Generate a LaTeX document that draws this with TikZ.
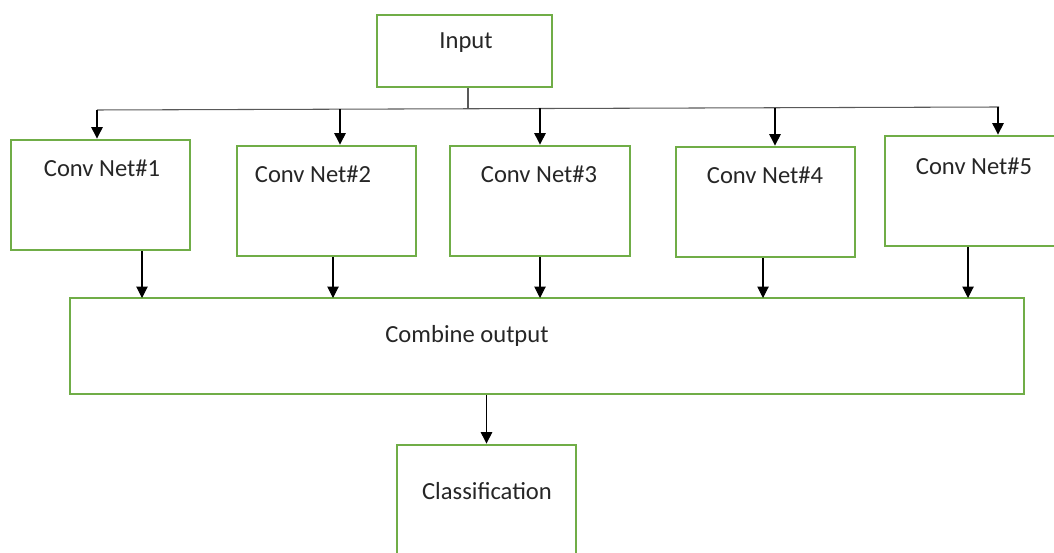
\documentclass[tikz,border=0pt]{standalone}
\usepackage{fontspec}
\setmainfont{Carlito}
\usetikzlibrary{calc,arrows.meta,positioning}
\definecolor{boxgreen}{HTML}{70AD47}

\begin{document}
\begin{tikzpicture}[
  x=0.02cm,y=-0.02cm,>={Triangle[width=6.5pt,length=6.5pt]},
  every node/.style={font=\fontsize{14}{16}\selectfont},
  box/.style={draw=boxgreen,line width=1.6pt,inner sep=0pt,minimum width=179*0.02cm,minimum height=110*0.02cm},
  lbl/.style={inner sep=0pt,text=black!85},
  link/.style={->,line width=0.6pt},
  bus/.style={line width=0.6pt,draw=black!65}
]
  \useasboundingbox (0,0) rectangle (1054,553);
  \clip (0,0) rectangle (1054,553);

  % Boxes
  \node[box,minimum width=175*0.02cm,minimum height=72*0.02cm] (input) at (464.5,51) {};
  \node[box] (c1) at (100.5,195) {};
  \node[box] (c2) at (326.5,201) {};
  \node[box,minimum width=180*0.02cm] (c3) at (540,201) {};
  \node[box] (c4) at (765.5,202) {};
  \node[box] (c5) at (974.5,191) {};
  \node[box,minimum width=954*0.02cm,minimum height=96*0.02cm] (comb) at (547,346) {};
  \node[box] (cls) at (486.5,500) {};

  % Texts
  \node[lbl] (input_t) at (466,43)  {Input};
  \node[lbl] (c1_t)    at (102,168) {Conv Net\#1};
  \node[lbl] (c2_t)    at (313,174) {Conv Net\#2};
  \node[lbl] (c3_t)    at (539,174) {Conv Net\#3};
  \node[lbl] (c4_t)    at (765,175) {Conv Net\#4};
  \node[lbl] (c5_t)    at (974,166) {Conv Net\#5};
  \node[lbl] (comb_t)  at (467,336) {Combine output};
  \node[lbl] (cls_t)   at (487,491) {Classification};

  % Bus under the input
  \coordinate (bL) at (97,110);
  \coordinate (bR) at (999,107);
  \coordinate (j)  at (468,108.5);
  \draw[bus] (bL) -- (bR);
  \draw[bus] (input.south -| j) -- (j);

  % Bus to conv nets
  \coordinate (b1) at (97,110);
  \coordinate (b2) at (340,109.2);
  \coordinate (b3) at (540,108.5);
  \coordinate (b4) at (775,107.7);
  \coordinate (b5) at (998,107);
  \foreach \i in {1,...,5}
    \draw[link] (b\i) -- (b\i |- c\i.north);

  % Conv nets to combine output
  \coordinate (d1) at (142,298);
  \coordinate (d2) at (333,298);
  \coordinate (d3) at (540,298);
  \coordinate (d4) at (763,298);
  \coordinate (d5) at (968,298);
  \foreach \i in {1,...,5}
    \draw[link] (d\i |- c\i.south) -- (d\i);

  % Combine output to classification
  \draw[link] (comb.south -| cls.north) -- (cls.north);
\end{tikzpicture}
\end{document}
